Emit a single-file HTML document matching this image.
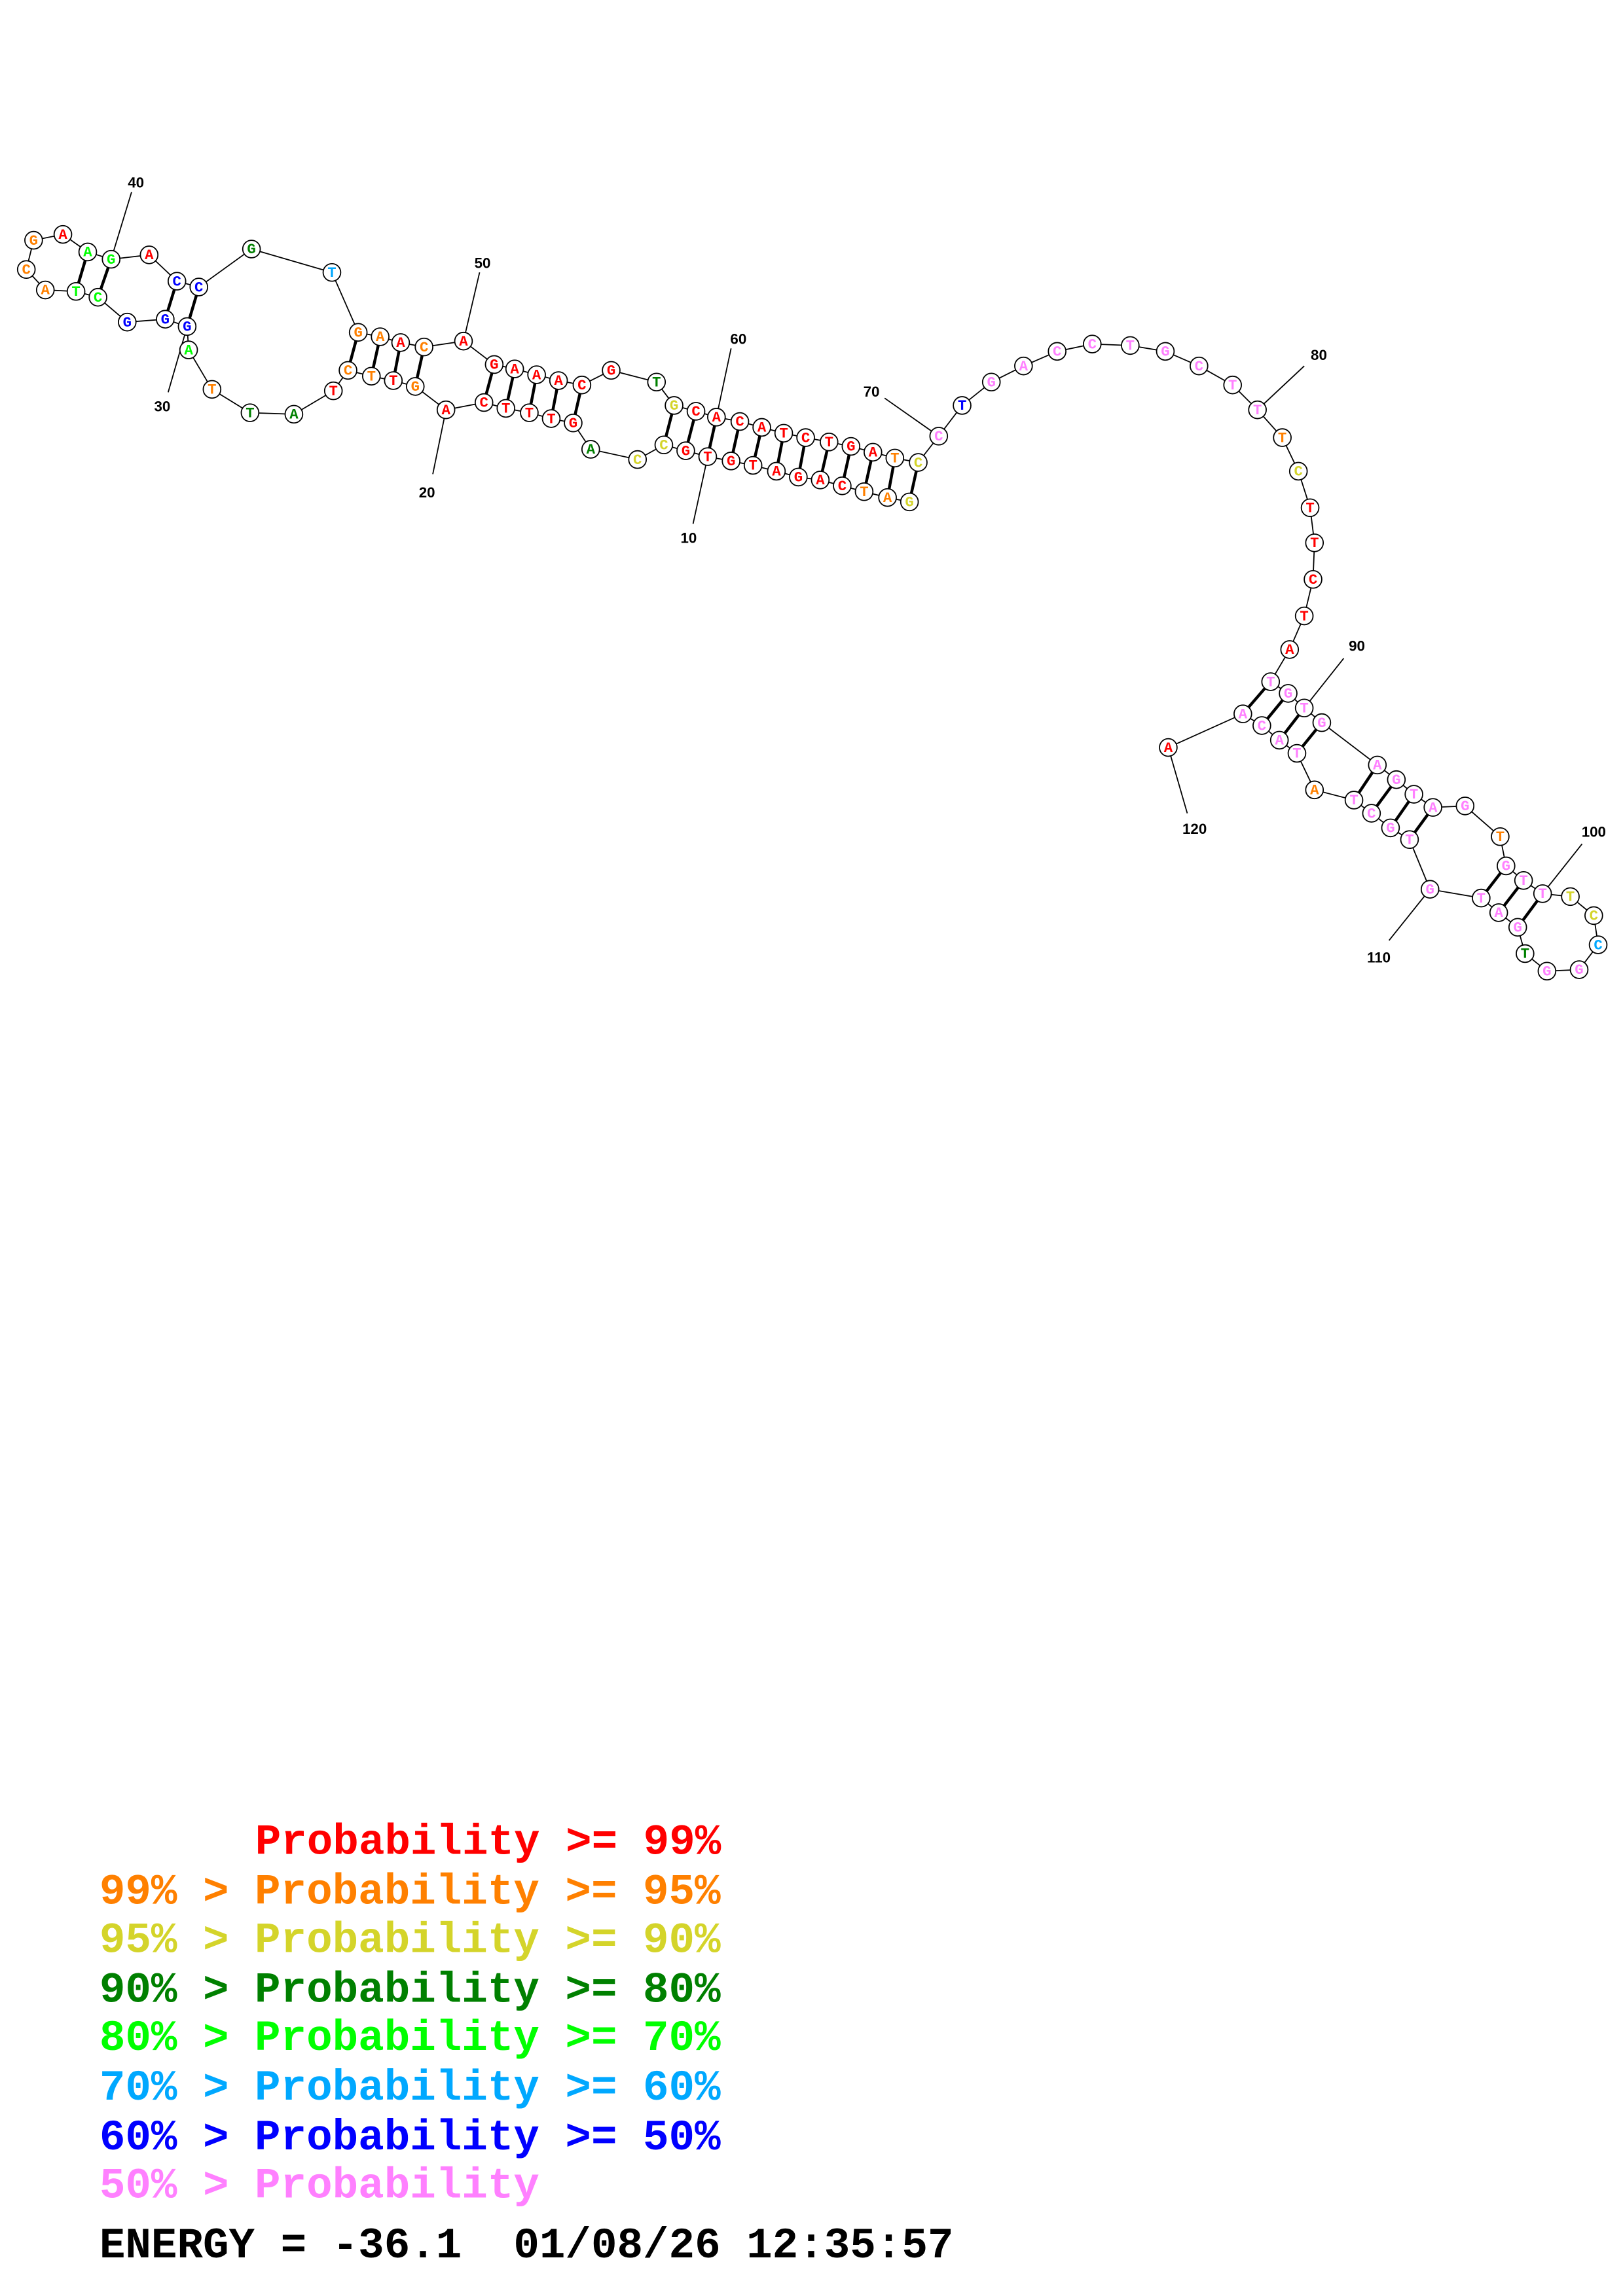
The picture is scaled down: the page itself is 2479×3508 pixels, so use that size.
<!DOCTYPE html>
<html><head><meta charset="utf-8"><style>html,body{margin:0;padding:0;background:#fff}svg{display:block}.pre text{white-space:pre}</style></head><body>
<svg xmlns="http://www.w3.org/2000/svg" width="2479" height="3508" viewBox="0 0 1110 1570">
<rect width="1110" height="1570" fill="#fff"/>
<g stroke="#000" stroke-width="0.8" fill="none">
<polyline points="622,343 607,340 591,336 576,332 561,328 546,326 531,322 515,318 500,315 484,312 469,308 454,304 436,314 404,307 392,289 377,286 362,282 346,279 331,275 305,280 284,264 269,260 254,257 238,253 228,267 201,283 171,282 145,266 129,239 128,223 113,218 87,220 67,203 52,199 31,198 18,184 23,164 43,160 60,172 76,177 102,174 121,192 136,196 172,170 227,186 245,227 260,230 274,234 290,237 317,233 338,249 352,252 367,256 382,260 398,263 418,253 449,261 461,277 476,281 490,285 506,288 521,292 536,296 551,299 567,302 582,305 597,309 612,313 628,316 642,298 658,277 678,261 700,250 723,240 747,235 773,236 797,240 820,250 843,263 860,280 877,299 888,322 896,347 899,371 898,396 892,421 882,444 869,466 881,474 892,484 904,494 942,523 955,533 967,543 980,552 1002,551 1026,572 1030,592 1042,602 1055,611 1074,613 1090,626 1093,646 1080,663 1058,664 1043,652 1038,634 1025,624 1013,614 978,608 964,574 951,566 938,556 926,547 899,540 887,515 875,506 863,496 850,488 799,511"/>
<line x1="484" y1="312" x2="474" y2="358"/>
<line x1="305" y1="280" x2="296" y2="324"/>
<line x1="128" y1="223" x2="115" y2="268"/>
<line x1="76" y1="177" x2="90" y2="131"/>
<line x1="317" y1="233" x2="328" y2="186"/>
<line x1="490" y1="285" x2="500" y2="238"/>
<line x1="642" y1="298" x2="605" y2="272"/>
<line x1="860" y1="280" x2="892" y2="250"/>
<line x1="892" y1="484" x2="919" y2="450"/>
<line x1="1055" y1="611" x2="1082" y2="577"/>
<line x1="978" y1="608" x2="950" y2="643"/>
<line x1="799" y1="511" x2="812" y2="556"/>
</g>
<g stroke="#000" stroke-width="2">
<line x1="622" y1="343" x2="628" y2="316"/><line x1="607" y1="340" x2="612" y2="313"/><line x1="591" y1="336" x2="597" y2="309"/><line x1="576" y1="332" x2="582" y2="305"/><line x1="561" y1="328" x2="567" y2="302"/><line x1="546" y1="326" x2="551" y2="299"/><line x1="531" y1="322" x2="536" y2="296"/><line x1="515" y1="318" x2="521" y2="292"/><line x1="500" y1="315" x2="506" y2="288"/><line x1="484" y1="312" x2="490" y2="285"/><line x1="469" y1="308" x2="476" y2="281"/><line x1="454" y1="304" x2="461" y2="277"/>
<line x1="392" y1="289" x2="398" y2="263"/><line x1="377" y1="286" x2="382" y2="260"/><line x1="362" y1="282" x2="367" y2="256"/><line x1="346" y1="279" x2="352" y2="252"/><line x1="331" y1="275" x2="338" y2="249"/>
<line x1="284" y1="264" x2="290" y2="237"/><line x1="269" y1="260" x2="274" y2="234"/><line x1="254" y1="257" x2="260" y2="230"/><line x1="238" y1="253" x2="245" y2="227"/>
<line x1="128" y1="223" x2="136" y2="196"/><line x1="113" y1="218" x2="121" y2="192"/><line x1="67" y1="203" x2="76" y2="177"/><line x1="52" y1="199" x2="60" y2="172"/>
<line x1="869" y1="466" x2="850" y2="488"/><line x1="881" y1="474" x2="863" y2="496"/><line x1="892" y1="484" x2="875" y2="506"/><line x1="904" y1="494" x2="887" y2="515"/>
<line x1="942" y1="523" x2="926" y2="547"/><line x1="955" y1="533" x2="938" y2="556"/><line x1="967" y1="543" x2="951" y2="566"/><line x1="980" y1="552" x2="964" y2="574"/>
<line x1="1030" y1="592" x2="1013" y2="614"/><line x1="1042" y1="602" x2="1025" y2="624"/><line x1="1055" y1="611" x2="1038" y2="634"/>
</g>
<g font-family="Liberation Sans, sans-serif" font-weight="bold" font-size="10" fill="#000" text-anchor="middle">
<text x="471" y="371">10</text><text x="292" y="340">20</text><text x="111" y="281">30</text><text x="93" y="128">40</text><text x="330" y="183">50</text><text x="505" y="235">60</text><text x="596" y="271">70</text><text x="902" y="246">80</text><text x="928" y="445">90</text><text x="1090" y="572">100</text><text x="943" y="658">110</text><text x="817" y="570">120</text>
</g>
<g stroke="#000" stroke-width="0.8" fill="#fff">
<circle cx="622" cy="343" r="6"/><circle cx="607" cy="340" r="6"/><circle cx="591" cy="336" r="6"/><circle cx="576" cy="332" r="6"/><circle cx="561" cy="328" r="6"/><circle cx="546" cy="326" r="6"/><circle cx="531" cy="322" r="6"/><circle cx="515" cy="318" r="6"/><circle cx="500" cy="315" r="6"/><circle cx="484" cy="312" r="6"/><circle cx="469" cy="308" r="6"/><circle cx="454" cy="304" r="6"/><circle cx="436" cy="314" r="6"/><circle cx="404" cy="307" r="6"/><circle cx="392" cy="289" r="6"/><circle cx="377" cy="286" r="6"/><circle cx="362" cy="282" r="6"/><circle cx="346" cy="279" r="6"/><circle cx="331" cy="275" r="6"/><circle cx="305" cy="280" r="6"/><circle cx="284" cy="264" r="6"/><circle cx="269" cy="260" r="6"/><circle cx="254" cy="257" r="6"/><circle cx="238" cy="253" r="6"/><circle cx="228" cy="267" r="6"/><circle cx="201" cy="283" r="6"/><circle cx="171" cy="282" r="6"/><circle cx="145" cy="266" r="6"/><circle cx="129" cy="239" r="6"/><circle cx="128" cy="223" r="6"/><circle cx="113" cy="218" r="6"/><circle cx="87" cy="220" r="6"/><circle cx="67" cy="203" r="6"/><circle cx="52" cy="199" r="6"/><circle cx="31" cy="198" r="6"/><circle cx="18" cy="184" r="6"/><circle cx="23" cy="164" r="6"/><circle cx="43" cy="160" r="6"/><circle cx="60" cy="172" r="6"/><circle cx="76" cy="177" r="6"/><circle cx="102" cy="174" r="6"/><circle cx="121" cy="192" r="6"/><circle cx="136" cy="196" r="6"/><circle cx="172" cy="170" r="6"/><circle cx="227" cy="186" r="6"/><circle cx="245" cy="227" r="6"/><circle cx="260" cy="230" r="6"/><circle cx="274" cy="234" r="6"/><circle cx="290" cy="237" r="6"/><circle cx="317" cy="233" r="6"/><circle cx="338" cy="249" r="6"/><circle cx="352" cy="252" r="6"/><circle cx="367" cy="256" r="6"/><circle cx="382" cy="260" r="6"/><circle cx="398" cy="263" r="6"/><circle cx="418" cy="253" r="6"/><circle cx="449" cy="261" r="6"/><circle cx="461" cy="277" r="6"/><circle cx="476" cy="281" r="6"/><circle cx="490" cy="285" r="6"/><circle cx="506" cy="288" r="6"/><circle cx="521" cy="292" r="6"/><circle cx="536" cy="296" r="6"/><circle cx="551" cy="299" r="6"/><circle cx="567" cy="302" r="6"/><circle cx="582" cy="305" r="6"/><circle cx="597" cy="309" r="6"/><circle cx="612" cy="313" r="6"/><circle cx="628" cy="316" r="6"/><circle cx="642" cy="298" r="6"/><circle cx="658" cy="277" r="6"/><circle cx="678" cy="261" r="6"/><circle cx="700" cy="250" r="6"/><circle cx="723" cy="240" r="6"/><circle cx="747" cy="235" r="6"/><circle cx="773" cy="236" r="6"/><circle cx="797" cy="240" r="6"/><circle cx="820" cy="250" r="6"/><circle cx="843" cy="263" r="6"/><circle cx="860" cy="280" r="6"/><circle cx="877" cy="299" r="6"/><circle cx="888" cy="322" r="6"/><circle cx="896" cy="347" r="6"/><circle cx="899" cy="371" r="6"/><circle cx="898" cy="396" r="6"/><circle cx="892" cy="421" r="6"/><circle cx="882" cy="444" r="6"/><circle cx="869" cy="466" r="6"/><circle cx="881" cy="474" r="6"/><circle cx="892" cy="484" r="6"/><circle cx="904" cy="494" r="6"/><circle cx="942" cy="523" r="6"/><circle cx="955" cy="533" r="6"/><circle cx="967" cy="543" r="6"/><circle cx="980" cy="552" r="6"/><circle cx="1002" cy="551" r="6"/><circle cx="1026" cy="572" r="6"/><circle cx="1030" cy="592" r="6"/><circle cx="1042" cy="602" r="6"/><circle cx="1055" cy="611" r="6"/><circle cx="1074" cy="613" r="6"/><circle cx="1090" cy="626" r="6"/><circle cx="1093" cy="646" r="6"/><circle cx="1080" cy="663" r="6"/><circle cx="1058" cy="664" r="6"/><circle cx="1043" cy="652" r="6"/><circle cx="1038" cy="634" r="6"/><circle cx="1025" cy="624" r="6"/><circle cx="1013" cy="614" r="6"/><circle cx="978" cy="608" r="6"/><circle cx="964" cy="574" r="6"/><circle cx="951" cy="566" r="6"/><circle cx="938" cy="556" r="6"/><circle cx="926" cy="547" r="6"/><circle cx="899" cy="540" r="6"/><circle cx="887" cy="515" r="6"/><circle cx="875" cy="506" r="6"/><circle cx="863" cy="496" r="6"/><circle cx="850" cy="488" r="6"/><circle cx="799" cy="511" r="6"/>
</g>
<g font-family="Liberation Mono, monospace" font-weight="bold" font-size="10" text-anchor="middle">
<text x="622" y="346" fill="#d4d42a">G</text><text x="607" y="343" fill="#ff8000">A</text><text x="591" y="339" fill="#ff8000">T</text><text x="576" y="335" fill="#f00">C</text><text x="561" y="331" fill="#f00">A</text><text x="546" y="329" fill="#f00">G</text><text x="531" y="325" fill="#f00">A</text><text x="515" y="321" fill="#f00">T</text><text x="500" y="318" fill="#f00">G</text><text x="484" y="315" fill="#f00">T</text><text x="469" y="311" fill="#f00">G</text><text x="454" y="307" fill="#d4d42a">C</text><text x="436" y="317" fill="#d4d42a">C</text><text x="404" y="310" fill="#008000">A</text><text x="392" y="292" fill="#f00">G</text><text x="377" y="289" fill="#f00">T</text><text x="362" y="285" fill="#f00">T</text><text x="346" y="282" fill="#f00">T</text><text x="331" y="278" fill="#f00">C</text><text x="305" y="283" fill="#f00">A</text><text x="284" y="267" fill="#ff8000">G</text><text x="269" y="263" fill="#f00">T</text><text x="254" y="260" fill="#ff8000">T</text><text x="238" y="256" fill="#ff8000">C</text><text x="228" y="270" fill="#f00">T</text><text x="201" y="286" fill="#008000">A</text><text x="171" y="285" fill="#008000">T</text><text x="145" y="269" fill="#ff8000">T</text><text x="129" y="242" fill="#0f0">A</text><text x="128" y="226" fill="#00f">G</text><text x="113" y="221" fill="#00f">G</text><text x="87" y="223" fill="#00f">G</text><text x="67" y="206" fill="#0f0">C</text><text x="52" y="202" fill="#0f0">T</text><text x="31" y="201" fill="#ff8000">A</text><text x="18" y="187" fill="#ff8000">C</text><text x="23" y="167" fill="#ff8000">G</text><text x="43" y="163" fill="#f00">A</text><text x="60" y="175" fill="#0f0">A</text><text x="76" y="180" fill="#0f0">G</text><text x="102" y="177" fill="#f00">A</text><text x="121" y="195" fill="#00f">C</text><text x="136" y="199" fill="#00f">C</text><text x="172" y="173" fill="#008000">G</text><text x="227" y="189" fill="#00a8ff">T</text><text x="245" y="230" fill="#ff8000">G</text><text x="260" y="233" fill="#ff8000">A</text><text x="274" y="237" fill="#f00">A</text><text x="290" y="240" fill="#ff8000">C</text><text x="317" y="236" fill="#f00">A</text><text x="338" y="252" fill="#f00">G</text><text x="352" y="255" fill="#f00">A</text><text x="367" y="259" fill="#f00">A</text><text x="382" y="263" fill="#f00">A</text><text x="398" y="266" fill="#f00">C</text><text x="418" y="256" fill="#f00">G</text><text x="449" y="264" fill="#008000">T</text><text x="461" y="280" fill="#d4d42a">G</text><text x="476" y="284" fill="#f00">C</text><text x="490" y="288" fill="#f00">A</text><text x="506" y="291" fill="#f00">C</text><text x="521" y="295" fill="#f00">A</text><text x="536" y="299" fill="#f00">T</text><text x="551" y="302" fill="#f00">C</text><text x="567" y="305" fill="#f00">T</text><text x="582" y="308" fill="#f00">G</text><text x="597" y="312" fill="#f00">A</text><text x="612" y="316" fill="#ff8000">T</text><text x="628" y="319" fill="#d4d42a">C</text><text x="642" y="301" fill="#ff80ff">C</text><text x="658" y="280" fill="#00f">T</text><text x="678" y="264" fill="#ff80ff">G</text><text x="700" y="253" fill="#ff80ff">A</text><text x="723" y="243" fill="#ff80ff">C</text><text x="747" y="238" fill="#ff80ff">C</text><text x="773" y="239" fill="#ff80ff">T</text><text x="797" y="243" fill="#ff80ff">G</text><text x="820" y="253" fill="#ff80ff">C</text><text x="843" y="266" fill="#ff80ff">T</text><text x="860" y="283" fill="#ff80ff">T</text><text x="877" y="302" fill="#ff8000">T</text><text x="888" y="325" fill="#d4d42a">C</text><text x="896" y="350" fill="#f00">T</text><text x="899" y="374" fill="#f00">T</text><text x="898" y="399" fill="#f00">C</text><text x="892" y="424" fill="#f00">T</text><text x="882" y="447" fill="#f00">A</text><text x="869" y="469" fill="#ff80ff">T</text><text x="881" y="477" fill="#ff80ff">G</text><text x="892" y="487" fill="#ff80ff">T</text><text x="904" y="497" fill="#ff80ff">G</text><text x="942" y="526" fill="#ff80ff">A</text><text x="955" y="536" fill="#ff80ff">G</text><text x="967" y="546" fill="#ff80ff">T</text><text x="980" y="555" fill="#ff80ff">A</text><text x="1002" y="554" fill="#ff80ff">G</text><text x="1026" y="575" fill="#ff8000">T</text><text x="1030" y="595" fill="#ff80ff">G</text><text x="1042" y="605" fill="#ff80ff">T</text><text x="1055" y="614" fill="#ff80ff">T</text><text x="1074" y="616" fill="#d4d42a">T</text><text x="1090" y="629" fill="#d4d42a">C</text><text x="1093" y="649" fill="#00a8ff">C</text><text x="1080" y="666" fill="#ff80ff">G</text><text x="1058" y="667" fill="#ff80ff">G</text><text x="1043" y="655" fill="#008000">T</text><text x="1038" y="637" fill="#ff80ff">G</text><text x="1025" y="627" fill="#ff80ff">A</text><text x="1013" y="617" fill="#ff80ff">T</text><text x="978" y="611" fill="#ff80ff">G</text><text x="964" y="577" fill="#ff80ff">T</text><text x="951" y="569" fill="#ff80ff">G</text><text x="938" y="559" fill="#ff80ff">C</text><text x="926" y="550" fill="#ff80ff">T</text><text x="899" y="543" fill="#ff8000">A</text><text x="887" y="518" fill="#ff80ff">T</text><text x="875" y="509" fill="#ff80ff">A</text><text x="863" y="499" fill="#ff80ff">C</text><text x="850" y="491" fill="#ff80ff">A</text><text x="799" y="514" fill="#f00">A</text>
</g>
<g class="pre" font-family="Liberation Mono, monospace" font-weight="bold" font-size="29.5">
<text x="174.5" y="1268" fill="#f00">Probability &gt;= 99%</text>
<text x="68" y="1302" fill="#ff8000">99% &gt; Probability &gt;= 95%</text>
<text x="68" y="1335" fill="#d4d42a">95% &gt; Probability &gt;= 90%</text>
<text x="68" y="1369" fill="#008000">90% &gt; Probability &gt;= 80%</text>
<text x="68" y="1402" fill="#0f0">80% &gt; Probability &gt;= 70%</text>
<text x="68" y="1436" fill="#00a8ff">70% &gt; Probability &gt;= 60%</text>
<text x="68" y="1470" fill="#00f">60% &gt; Probability &gt;= 50%</text>
<text x="68" y="1503" fill="#ff80ff">50% &gt; Probability</text>
<text x="68" y="1544" fill="#000">ENERGY = -36.1  01/08/26 12:35:57</text>
</g>
</svg>
</body></html>
